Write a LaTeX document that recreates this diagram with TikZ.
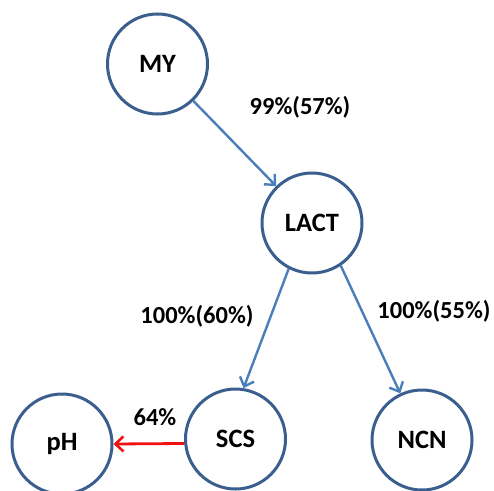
\documentclass[tikz,border=0pt]{standalone}
\usepackage{fontspec}
\setmainfont{Carlito}
\usetikzlibrary{arrows.meta}
\definecolor{circ}{HTML}{3A5F8F}
\definecolor{arr}{HTML}{4A7EBB}
\definecolor{redarr}{HTML}{F01010}
\tikzset{
  var/.style={circle, draw=circ, line width=3pt, minimum size=100pt, inner sep=0pt,
    font=\fontsize{26.5}{30}\selectfont\bfseries},
  link/.style={draw=arr, line width=2.4pt, -{Straight Barb[length=8pt,width=15pt,line width=2.4pt]}},
  neg/.style={draw=redarr, line width=2.8pt, -{Straight Barb[length=8pt,width=15pt,line width=2.6pt]}},
  lab/.style={font=\fontsize{24.5}{28}\selectfont\bfseries, inner sep=0pt}
}
\begin{document}
\begin{tikzpicture}[x=1pt,y=-1pt]
\useasboundingbox (0,0) rectangle (494,490);
\node[var] (my) at (157.5,64) {MY};
\node[var] (lact) at (312,223) {LACT};
\node[var] (scs) at (235.5,439) {SCS};
\node[var] (ncn) at (422,440) {NCN};
\node[var] (ph) at (62,444) {pH};
\draw[link] (my) -- (lact);
\draw[link] (lact.243) -- (scs.81);
\draw[link] (lact.304) -- (ncn.115);
\draw[neg] (scs.185) -- (ph.east);
\node[lab] (l1) at (300,107) {99\%(57\%)};
\node[lab] (l2) at (197,316) {100\%(60\%)};
\node[lab] (l3) at (434,311) {100\%(55\%)};
\node[lab] (l4) at (155,417) {64\%};
\end{tikzpicture}
\end{document}
